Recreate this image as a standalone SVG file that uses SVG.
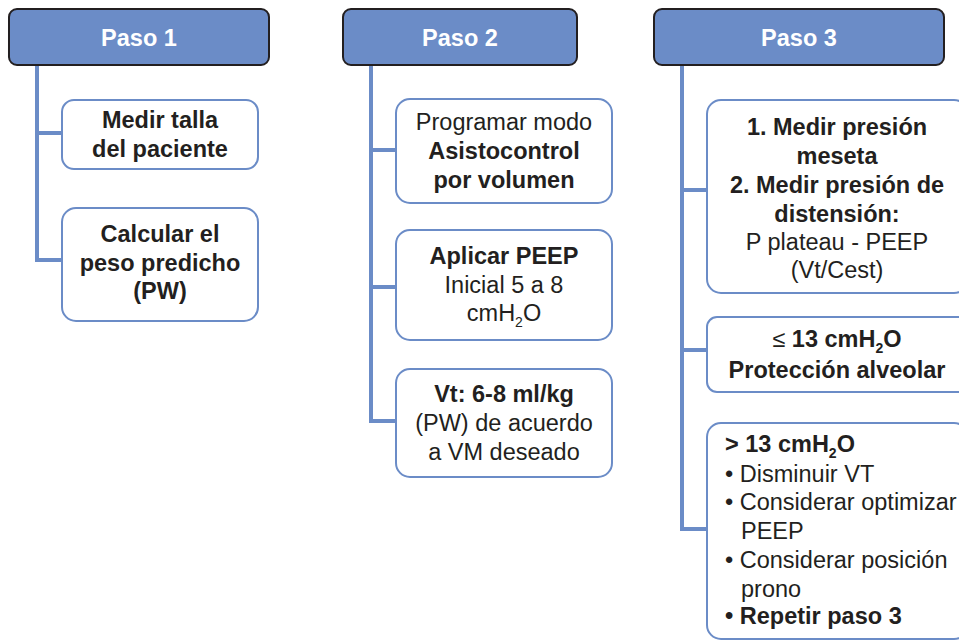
<svg xmlns="http://www.w3.org/2000/svg" width="959" height="641" viewBox="0 0 959 641">
<style>
.hdr{fill:#6b8cc7;stroke:#231f20;stroke-width:2}
.box{fill:#fff;stroke:#6b8cc7;stroke-width:2}
.ht{font-family:"Liberation Sans",Arial,sans-serif;font-weight:bold;font-size:23.5px;fill:#fff;text-anchor:middle}
.t{font-family:"Liberation Sans",Arial,sans-serif;font-size:23.5px;fill:#231f20}
.c{text-anchor:middle}
.b{font-weight:bold}
.r{font-weight:normal}
.sub{font-size:14px}
.ln{fill:none;stroke:#6b8cc7;stroke-width:4}
</style>
<rect width="959" height="641" fill="#fff"/>
<g id="connectors">
<path class="ln" d="M37 65 V260 H62 M37 133 H62"/>
<path class="ln" d="M371 65 V421 H396 M371 150 H396 M371 287 H396"/>
<path class="ln" d="M682 65 V529 H707 M682 190 H707 M682 350 H707"/>
</g>
<g id="paso1">
<rect class="hdr" x="9" y="9" width="260" height="56" rx="8"/>
<text class="ht" x="139" y="46">Paso 1</text>
</g>
<g id="p1a">
<rect class="box" x="62" y="100" width="196" height="69" rx="12"/>
<text class="t c b" x="160" y="128">Medir talla</text>
<text class="t c b" x="160" y="157">del paciente</text>
</g>
<g id="p1b">
<rect class="box" x="62" y="208" width="196" height="113" rx="14"/>
<text class="t c b" x="160" y="242">Calcular el</text>
<text class="t c b" x="160" y="271">peso predicho</text>
<text class="t c b" x="160" y="299">(PW)</text>
</g>
<g id="paso2">
<rect class="hdr" x="343" y="9" width="234" height="56" rx="8"/>
<text class="ht" x="460" y="46">Paso 2</text>
</g>
<g id="p2a">
<rect class="box" x="396" y="99" width="216" height="104" rx="14"/>
<text class="t c" x="504" y="130">Programar modo</text>
<text class="t c b" x="504" y="159">Asistocontrol</text>
<text class="t c b" x="504" y="188">por volumen</text>
</g>
<g id="p2b">
<rect class="box" x="396" y="230" width="216" height="110" rx="14"/>
<text class="t c b" x="504" y="264">Aplicar PEEP</text>
<text class="t c" x="504" y="293">Inicial 5 a 8</text>
<text class="t c" x="504" y="321">cmH<tspan class="sub" dy="6">2</tspan><tspan dy="-6">O</tspan></text>
</g>
<g id="p2c">
<rect class="box" x="396" y="369" width="216" height="108" rx="14"/>
<text class="t c b" x="504" y="402">Vt: 6-8 ml/kg</text>
<text class="t c" x="504" y="431">(PW) de acuerdo</text>
<text class="t c" x="504" y="460">a VM deseado</text>
</g>
<g id="paso3">
<rect class="hdr" x="654" y="9" width="290" height="56" rx="8"/>
<text class="ht" x="799" y="46">Paso 3</text>
</g>
<g id="p3a">
<rect class="box" x="707" y="100" width="261" height="193" rx="14"/>
<text class="t c b" x="837" y="135">1. Medir presión</text>
<text class="t c b" x="837" y="164">meseta</text>
<text class="t c b" x="837" y="193">2. Medir presión de</text>
<text class="t c b" x="837" y="222">distensión:</text>
<text class="t c" x="837" y="250">P plateau - PEEP</text>
<text class="t c" x="837" y="278">(Vt/Cest)</text>
</g>
<g id="p3b">
<rect class="box" x="707" y="317" width="261" height="75" rx="10"/>
<text class="t c b" x="837" y="347"><tspan class="r">≤</tspan> 13 cmH<tspan class="sub" dy="6">2</tspan><tspan dy="-6">O</tspan></text>
<text class="t c b" x="837" y="378">Protección alveolar</text>
</g>
<g id="p3c">
<rect class="box" x="707" y="423" width="261" height="216" rx="14"/>
<text class="t b" x="725" y="452">&gt; 13 cmH<tspan class="sub" dy="6">2</tspan><tspan dy="-6">O</tspan></text>
<text class="t" x="725" y="482">• Disminuir VT</text>
<text class="t" x="725" y="510">• Considerar optimizar</text>
<text class="t" x="741" y="539">PEEP</text>
<text class="t" x="725" y="568">• Considerar posición</text>
<text class="t" x="741" y="597">prono</text>
<text class="t b" x="725" y="624">• Repetir paso 3</text>
</g>
</svg>
